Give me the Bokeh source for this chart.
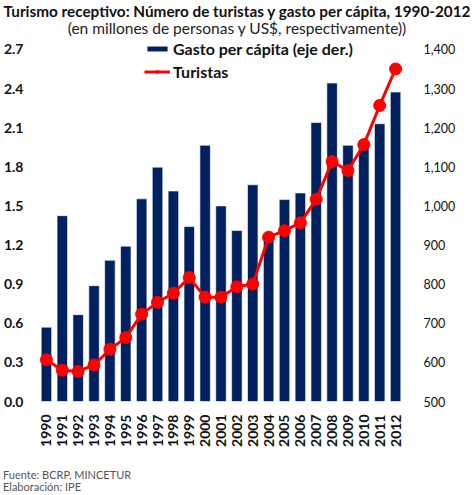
from bokeh.plotting import figure
from bokeh.models import (Range1d, LinearAxis, FixedTicker, Legend, LegendItem,
                          NumeralTickFormatter, Div)
from bokeh.layouts import column
from bokeh.embed import file_html
from bokeh.resources import INLINE
import math

years = list(range(1990, 2013))
turistas = [0.32, 0.24, 0.23, 0.28, 0.40, 0.49, 0.67, 0.76, 0.83, 0.95, 0.80, 0.80,
            0.88, 0.90, 1.26, 1.31, 1.37, 1.55, 1.84, 1.77, 1.97, 2.27, 2.55]
gasto = [690, 975, 722, 796, 861, 897, 1018, 1099, 1038, 947, 1155, 1000,
         937, 1054, 920, 1016, 1033, 1213, 1314, 1155, 1155, 1210, 1291]
left_ticks = [0.0, 0.3, 0.6, 0.9, 1.2, 1.5, 1.8, 2.1, 2.4, 2.7]
right_ticks = [500, 600, 700, 800, 900, 1000, 1100, 1200, 1300, 1400]
title_text = "Turismo receptivo: Número de turistas y gasto per cápita, 1990-2012"
subtitle_text = "(en millones de personas y US$, respectivamente))"
source_text = "Fuente: BCRP, MINCETUR"
credit_text = "Elaboración: IPE"

FONT = "Lato"
NAVY = "#002060"
RED = "#ff0000"
W = 458
HEAD_H = 36
FIG_H = 413
BOTTOM = 45
TOP_PAD = 13

head = Div(text=(f'<div style="width:474px;text-align:center;font-family:Lato;color:#111;padding-top:3px;">'
                 f'<div style="font-weight:bold;font-size:15.3px;line-height:17px;white-space:nowrap;">{title_text}</div>'
                 f'<div style="font-size:15.5px;line-height:16px;color:#222;white-space:nowrap;">{subtitle_text}</div>'
                 '</div>'),
           width=W, height=HEAD_H, margin=0)

p = figure(width=W, height=FIG_H, output_backend="svg", toolbar_location=None,
           title=None, x_range=Range1d(1989.5, 2012.5),
           y_range=Range1d(0, 2.7 + TOP_PAD / 131.5),
           min_border_left=30, min_border_right=44, min_border_top=0,
           min_border_bottom=BOTTOM, margin=0)
p.extra_y_ranges = {"gasto": Range1d(500, 1400 + TOP_PAD / (131.5 * 0.003))}

p.outline_line_color = None
p.grid.visible = False
p.background_fill_color = "white"
p.border_fill_color = "white"

bars = p.vbar(x=years, top=gasto, bottom=500, width=0.66, y_range_name="gasto",
              fill_color=NAVY, line_color="white", line_width=0.6)
ln = p.line(years, turistas, line_color=RED, line_width=3)
pts = p.scatter(years, turistas, size=12, fill_color=RED, line_color=RED)

for ax in [p.xaxis[0], p.yaxis[0]]:
    ax.axis_line_color = None
    ax.major_tick_line_color = None
    ax.minor_tick_line_color = None
    ax.major_label_text_font = FONT
    ax.major_label_text_font_style = "bold"
    ax.major_label_text_font_size = "14px"
    ax.major_label_text_color = "#111111"

p.yaxis[0].ticker = FixedTicker(ticks=left_ticks)
p.yaxis[0].formatter = NumeralTickFormatter(format="0.0")
p.yaxis[0].major_label_standoff = 9

p.xaxis[0].ticker = FixedTicker(ticks=years)
p.xaxis[0].major_label_orientation = math.pi / 2
p.xaxis[0].major_label_standoff = 7

rax = LinearAxis(y_range_name="gasto", ticker=FixedTicker(ticks=right_ticks),
                 formatter=NumeralTickFormatter(format="0,0"))
rax.axis_line_color = None
rax.major_tick_line_color = None
rax.minor_tick_line_color = None
rax.major_label_text_font = FONT
rax.major_label_text_font_size = "12.5px"
rax.major_label_text_color = "#111111"
rax.major_label_standoff = 14
p.add_layout(rax, "right")

legend = Legend(items=[LegendItem(label="Gasto per cápita (eje der.)", renderers=[bars]),
                       LegendItem(label="Turistas", renderers=[ln, pts])],
                location=(106, FIG_H - BOTTOM - 48), orientation="vertical",
                background_fill_alpha=0, border_line_color=None,
                label_text_font=FONT, label_text_font_style="bold",
                label_text_font_size="16px", label_text_color="#111111",
                glyph_width=26, glyph_height=7, spacing=3, padding=0, margin=0,
                label_standoff=3, label_height=20)
p.add_layout(legend, "center")

foot = Div(text=(f'<div style="font-family:Lato;font-size:11px;line-height:12px;color:#555;padding-top:20px;padding-left:3px;white-space:nowrap;">'
                 f'{source_text}<br>{credit_text}</div>'),
           width=W, height=44, margin=0)

layout = column(head, p, foot, spacing=0, margin=0)
open("out.html", "w").write(file_html(layout, INLINE))
